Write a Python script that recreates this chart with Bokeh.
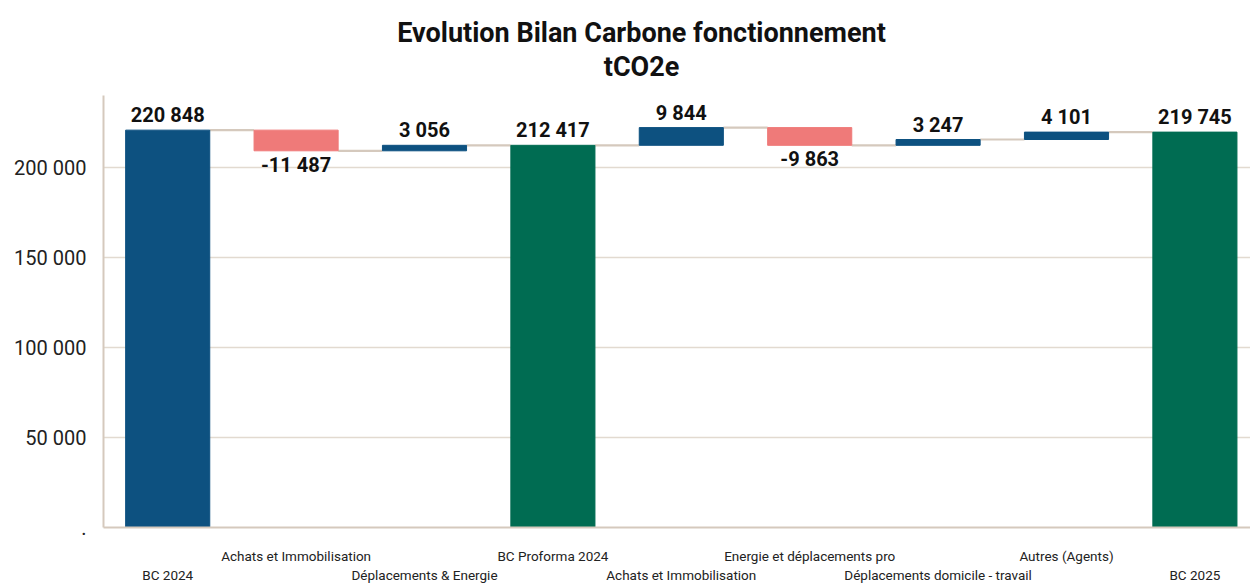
from bokeh.plotting import figure
from bokeh.models import Range1d, FixedTicker, LinearAxis, ColumnDataSource, Label
from bokeh.core.properties import value
from bokeh.embed import file_html
from bokeh.resources import INLINE

categories = ["BC 2024", "Achats et Immobilisation", "Déplacements & Energie",
              "BC Proforma 2024", "Achats et Immobilisation", "Energie et déplacements pro",
              "Déplacements domicile - travail", "Autres (Agents)", "BC 2025"]
values = [220848, -11487, 3056, 212417, 9844, -9863, 3247, 4101, 219745]
is_total = [True, False, False, True, False, False, False, False, True]
y_ticks = [0, 50000, 100000, 150000, 200000]
title_lines = ["Evolution Bilan Carbone fonctionnement", "tCO2e"]

BLUE = "#0D5180"
GREEN = "#006C52"
RED = "#EF7A79"
BEIGE = "#D5C9BD"
GRID = "#E2DAD0"
FONT = "Roboto"
BAR_W = 0.655

AXIS_TOP = 240300          # value at the top of the visible value axis
AXIS_PX = 434              # pixel height of the value axis (y 95 -> 529)
FRAME_PX = 529             # frame extends to the top of the canvas (room for title)
Y_TOP = AXIS_TOP * FRAME_PX / AXIS_PX
X_MIN, X_MAX = -0.5, 8.433
FRAME_W = 1147


def fmt(v):
    return f"{v:,}".replace(",", " ")


def px_to_y(page_y):
    return (FRAME_PX - page_y) * AXIS_TOP / AXIS_PX


xs, bottoms, tops, colors = [], [], [], []
cum = 0
for i, (v, t) in enumerate(zip(values, is_total)):
    xs.append(i)
    if t:
        b, top = 0, v
        colors.append(BLUE if i == 0 else GREEN)
    else:
        b, top = cum, cum + v
        colors.append(BLUE if v > 0 else RED)
    cum = top
    bottoms.append(b)
    tops.append(top)

bars = ColumnDataSource(dict(x=xs, bottom=bottoms, top=tops, color=colors))

pos = dict(x=[], y=[], t=[])
neg = dict(x=[], y=[], t=[])
for i, v in enumerate(values):
    if v >= 0:
        pos["x"].append(i); pos["y"].append(max(bottoms[i], tops[i])); pos["t"].append(fmt(v))
    else:
        neg["x"].append(i); neg["y"].append(min(bottoms[i], tops[i])); neg["t"].append(fmt(v))

conn = dict(x0=[], x1=[], y=[])
for i in range(len(values) - 1):
    conn["x0"].append(i + BAR_W / 2)
    conn["x1"].append(i + 1 - BAR_W / 2)
    conn["y"].append(tops[i])

p = figure(width=1250, height=585, output_backend="svg", toolbar_location=None,
           title=None,
           x_range=Range1d(X_MIN, X_MAX), y_range=Range1d(0, Y_TOP),
           min_border_left=103, min_border_right=0, min_border_top=0, min_border_bottom=56)

# title: two centred lines
title_cx = X_MIN + 538 * (X_MAX - X_MIN) / FRAME_W
for txt, baseline_px in zip(title_lines, [33, 67]):
    p.add_layout(Label(x=title_cx, y=px_to_y(baseline_px), text=txt,
                       text_align="center", text_baseline="alphabetic",
                       text_font=FONT, text_font_size="27px", text_font_style="bold",
                       text_color="#111111"))

p.outline_line_color = None
p.background_fill_color = "white"
p.border_fill_color = "white"

p.segment(x0="x0", x1="x1", y0="y", y1="y", source=ColumnDataSource(conn),
          line_color=BEIGE, line_width=2.2)
p.vbar(x="x", bottom="bottom", top="top", width=BAR_W, color="color", source=bars)

p.text(x="x", y="y", text="t", source=ColumnDataSource(pos), text_align="center",
       text_baseline="bottom", y_offset=-3, text_font=value(FONT),
       text_font_size="20px", text_font_style="bold", text_color="#111111")
p.text(x="x", y="y", text="t", source=ColumnDataSource(neg), text_align="center",
       text_baseline="top", y_offset=2, text_font=value(FONT),
       text_font_size="20px", text_font_style="bold", text_color="#111111")

# grid
p.xgrid.grid_line_color = None
p.ygrid.ticker = FixedTicker(ticks=y_ticks[1:])
p.ygrid.grid_line_color = GRID
p.ygrid.grid_line_width = 1.5

# y axis
ya = p.yaxis[0]
ya.ticker = FixedTicker(ticks=y_ticks)
ya.bounds = (0, AXIS_TOP)
ya.major_label_overrides = {t: ("." if t == 0 else fmt(t)) for t in y_ticks}
ya.axis_line_color = BEIGE
ya.axis_line_width = 2
ya.major_tick_line_color = None
ya.minor_tick_line_color = None
ya.major_tick_out = 0
ya.major_tick_in = 0
ya.major_label_standoff = 17
ya.major_label_text_font = FONT
ya.major_label_text_font_size = "20px"
ya.major_label_text_color = "#222222"

# x axes (staggered labels)
upper = [i for i in range(len(categories)) if i % 2 == 1]
lower = [i for i in range(len(categories)) if i % 2 == 0]
xa = p.xaxis[0]
xa.ticker = FixedTicker(ticks=upper)
xa.major_label_overrides = {i: categories[i] for i in upper}
xa.axis_line_color = BEIGE
xa.axis_line_width = 2
xa.major_tick_line_color = None
xa.minor_tick_line_color = None
xa.major_tick_out = 0
xa.major_tick_in = 0
xa.major_label_standoff = 20
xa.major_label_text_font = FONT
xa.major_label_text_font_size = "13.5px"
xa.major_label_text_color = "#222222"

xb = LinearAxis(ticker=FixedTicker(ticks=lower),
                major_label_overrides={i: categories[i] for i in lower})
xb.axis_line_color = None
xb.major_tick_line_color = None
xb.minor_tick_line_color = None
xb.major_tick_out = 0
xb.major_tick_in = 0
xb.major_label_standoff = 0
xb.major_label_text_font = FONT
xb.major_label_text_font_size = "13.5px"
xb.major_label_text_color = "#222222"
p.add_layout(xb, "below")

open("out.html", "w").write(file_html(p, INLINE))
